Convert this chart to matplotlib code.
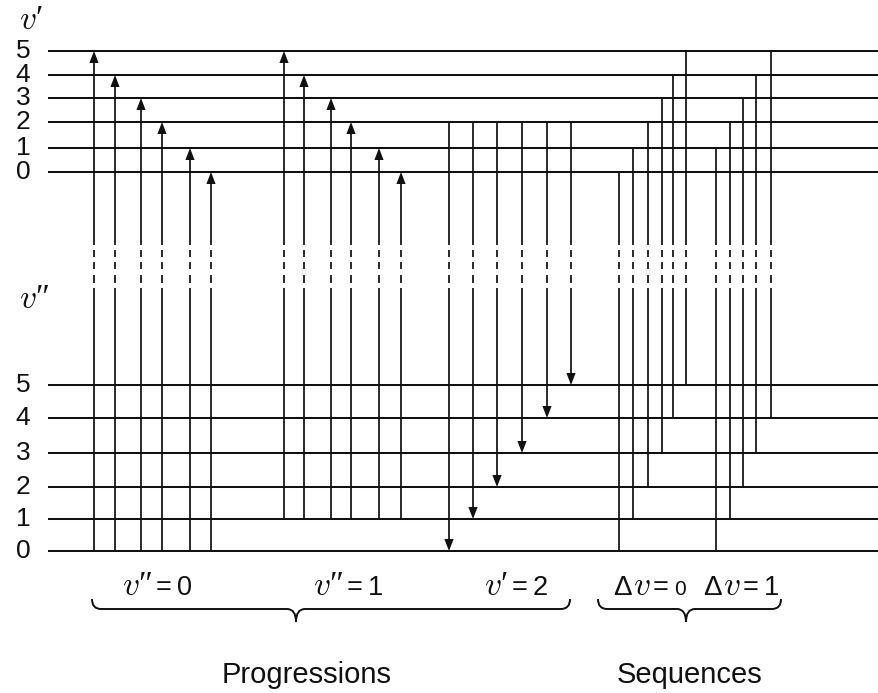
import matplotlib
matplotlib.use("Agg")
import os
import matplotlib.pyplot as plt
from matplotlib.patches import Polygon, PathPatch
from matplotlib.path import Path
from matplotlib.font_manager import FontProperties

# ---------------- data ----------------
levels = [0, 1, 2, 3, 4, 5]
# vertical position (drawing units) of each vibrational level
upper_level_y = [172, 148, 122, 98, 75, 51]     # v' = 0..5
lower_level_y = [551, 519, 487, 453, 418, 385]  # v'' = 0..5

# progression v'' = 0 (absorption, arrows up)
prog0_x = [94, 115, 141, 162, 190, 211]
prog0_upper = [5, 4, 3, 2, 1, 0]
prog0_lower = 0
# progression v'' = 1 (absorption, arrows up)
prog1_x = [284, 304, 331, 351, 379, 401]
prog1_upper = [5, 4, 3, 2, 1, 0]
prog1_lower = 1
# progression v' = 2 (emission, arrows down)
prog2_x = [449, 473, 497, 522, 547, 571]
prog2_upper = 2
prog2_lower = [0, 1, 2, 3, 4, 5]
# sequence dv = 0
seq0_x = [619, 633, 648, 662, 673, 686]
seq0_upper = [0, 1, 2, 3, 4, 5]
seq0_lower = [0, 1, 2, 3, 4, 5]
# sequence dv = 1
seq1_x = [716, 730, 743, 756, 771]
seq1_upper = [1, 2, 3, 4, 5]
seq1_lower = [0, 1, 2, 3, 4]

group_primes = ["\u2033", "\u2033", "\u2032"]
group_values = ["0", "1", "2"]
seq_values = ["0", "1"]
group_titles = ["Progressions", "Sequences"]

# ---------------- style ----------------
plt.rcParams["font.family"] = ["Liberation Sans", "DejaVu Sans"]
INK = "#111111"
W, H = 879, 693
fig = plt.figure(figsize=(W / 100, H / 100), dpi=100)
ax = fig.add_axes([0, 0, 1, 1])
ax.set_xlim(0, W)
ax.set_ylim(H, 0)
ax.axis("off")
renderer = fig.canvas.get_renderer()

CM_IT = FontProperties(fname=os.path.join(matplotlib.get_data_path(), "fonts", "ttf", "cmmi10.ttf"),
                       size=24)
PRIME = FontProperties(family="Liberation Serif", size=24)
SANS = FontProperties(family="Liberation Sans", size=19.5)
SANS_SMALL = FontProperties(family="Liberation Sans", size=15)
GREEK = FontProperties(family="Liberation Sans", size=20)


def pieces(x, y, parts):
    """parts: list of (text, fontprops, gap_before, dy)."""
    for txt, fp, gap, dy in parts:
        x += gap
        t = ax.text(x, y + dy, txt, fontproperties=fp, ha="left", va="baseline", color=INK)
        x += t.get_window_extent(renderer).width
    return x


LW_LEVEL = 1.45
LW_V = 1.25
X0_LEVEL = 48

# levels
for y in upper_level_y + lower_level_y:
    ax.plot([X0_LEVEL, W], [y, y], color=INK, lw=LW_LEVEL, solid_capstyle="butt")

# level labels
for v, y in zip(levels, upper_level_y):
    ax.text(23, y, str(v), fontsize=19, ha="center", va="center", color=INK)
for v, y in zip(levels, lower_level_y):
    ax.text(23, y, str(v), fontsize=19, ha="center", va="center", color=INK)
pieces(19, 29, [("v", CM_IT, 0, 0), ("\u2032", PRIME, 0, -1)])
pieces(19, 308, [("v", CM_IT, 0, 0), ("\u2033", PRIME, 0, -1)])

BREAK_SOLID_END = 245
BREAK_DASHES = [(250, 257), (262, 269), (275, 283)]
BREAK_SOLID_START = 288
AH_W, AH_L = 4.6, 12


def vertical(x, y_top, y_bot, arrow=None):
    top = y_top + (AH_L if arrow == "up" else 0)
    bot = y_bot - (AH_L if arrow == "down" else 0)
    ax.plot([x, x], [top, BREAK_SOLID_END], color=INK, lw=LW_V, solid_capstyle="butt")
    for a, b in BREAK_DASHES:
        ax.plot([x, x], [a, b], color=INK, lw=LW_V, solid_capstyle="butt")
    ax.plot([x, x], [BREAK_SOLID_START, bot], color=INK, lw=LW_V, solid_capstyle="butt")
    if arrow == "up":
        ax.add_patch(Polygon([(x, y_top), (x - AH_W, y_top + AH_L), (x + AH_W, y_top + AH_L)],
                             closed=True, color=INK, lw=0))
    elif arrow == "down":
        ax.add_patch(Polygon([(x, y_bot), (x - AH_W, y_bot - AH_L), (x + AH_W, y_bot - AH_L)],
                             closed=True, color=INK, lw=0))


for x, u in zip(prog0_x, prog0_upper):
    vertical(x, upper_level_y[u], lower_level_y[prog0_lower], "up")
for x, u in zip(prog1_x, prog1_upper):
    vertical(x, upper_level_y[u], lower_level_y[prog1_lower], "up")
for x, l in zip(prog2_x, prog2_lower):
    vertical(x, upper_level_y[prog2_upper], lower_level_y[l], "down")
for x, u, l in zip(seq0_x, seq0_upper, seq0_lower):
    vertical(x, upper_level_y[u], lower_level_y[l])
for x, u, l in zip(seq1_x, seq1_upper, seq1_lower):
    vertical(x, upper_level_y[u], lower_level_y[l])


def brace(x0, x1, xm, y_end=599, y_line=609, y_tip=622, r=9):
    verts = [
        (x0, y_end), (x0, y_line), (x0 + r, y_line),
        (xm - r, y_line), (xm, y_line), (xm, y_tip),
        (xm, y_line), (xm + r, y_line),
        (x1 - r, y_line), (x1, y_line), (x1, y_end),
    ]
    codes = [Path.MOVETO, Path.CURVE3, Path.CURVE3,
             Path.LINETO, Path.CURVE3, Path.CURVE3,
             Path.CURVE3, Path.CURVE3,
             Path.LINETO, Path.CURVE3, Path.CURVE3]
    ax.add_patch(PathPatch(Path(verts, codes), fill=False, edgecolor=INK, lw=1.4))


brace(92, 570, 296)
brace(598, 781, 686)

# group labels (v'' = 0, v'' = 1, v' = 2)
for xl, pr, val in zip([122, 313, 484], group_primes, group_values):
    pieces(xl, 595, [("v", CM_IT, 0, 0), (pr, PRIME, 0, -1),
                     ("=", SANS, 4, 0), (val, SANS, 5, 0)])
# sequence labels (dv = 0, dv = 1)
for xl, val in zip([613, 703], seq_values):
    fp = SANS_SMALL if val == "0" else SANS
    pieces(xl, 595, [("\u0394", GREEK, 0, 0), ("v", CM_IT, 1, 0),
                     ("=", SANS, 4, 0), (val, fp, 5, 0)])

ax.text(307, 683, group_titles[0], fontsize=21, ha="center", va="baseline", color=INK)
ax.text(690, 683, group_titles[1], fontsize=21, ha="center", va="baseline", color=INK)

fig.savefig("out.png", dpi=100, facecolor="white")
